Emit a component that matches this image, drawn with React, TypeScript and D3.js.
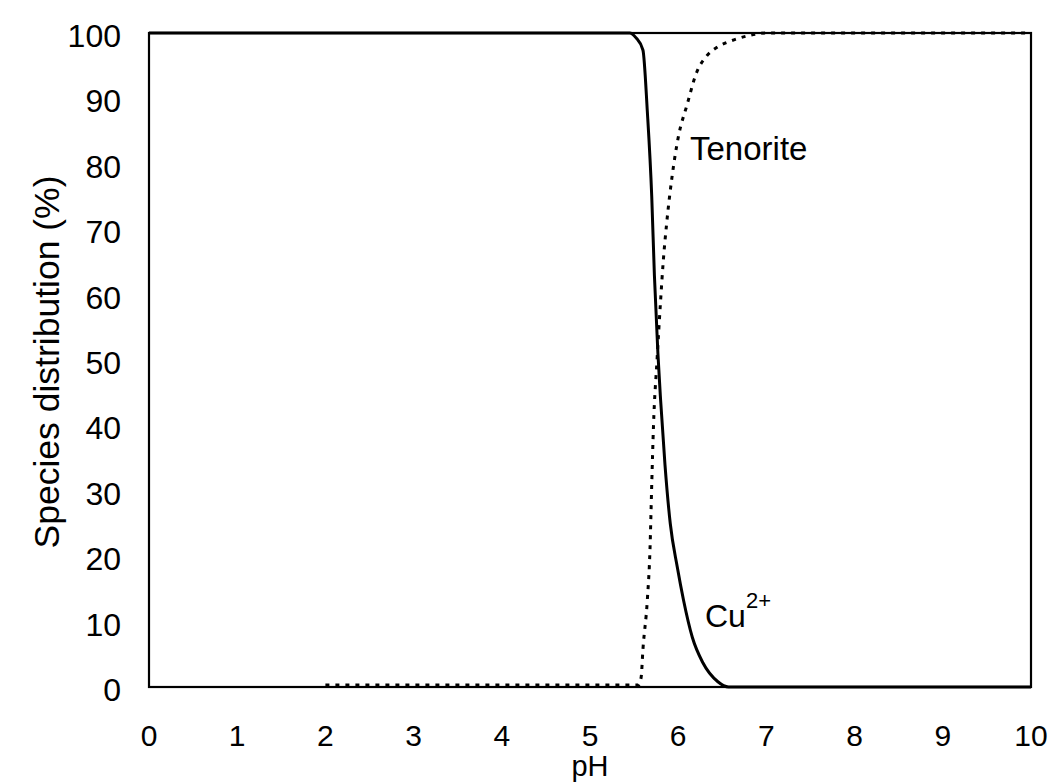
import React from "react";
import * as d3 from "d3";

const xTicks = [0, 1, 2, 3, 4, 5, 6, 7, 8, 9, 10];
const yTicks = [0, 10, 20, 30, 40, 50, 60, 70, 80, 90, 100];

const cuPH = [0, 5.45, 5.52, 5.6, 5.65, 5.7, 5.73, 5.77, 5.8, 5.85, 5.91, 5.99, 6.06, 6.16, 6.28, 6.45, 6.57, 10];
const cuVal = [100, 100, 99.3, 97.4, 88, 75, 63, 51, 44, 34, 25, 18.3, 13.3, 7.6, 3.7, 0.8, 0, 0];

const tenPH = [2, 5.55, 5.58, 5.6, 5.65, 5.68, 5.7, 5.72, 5.76, 5.8, 5.83, 5.87, 5.93, 6.0, 6.1, 6.21, 6.33, 6.45, 6.6, 6.8, 7.0, 10];
const tenVal = [0.3, 0.3, 1.5, 5.7, 13.3, 21, 31, 40, 50, 59, 65, 71, 78, 84, 89, 94, 96.6, 97.9, 98.8, 99.6, 100, 100];

const W = 1054;
const H = 782;
const left = 149;
const right = 1031;
const top = 33;
const bottom = 687;
const font = "'Liberation Sans', Arial, Helvetica, sans-serif";

export default function App() {
  const x = d3.scaleLinear().domain([0, 10]).range([left, right]);
  const y = d3.scaleLinear().domain([0, 100]).range([bottom, top]);
  const line = d3
    .line<[number, number]>()
    .x((d) => x(d[0]))
    .y((d) => y(d[1]))
    .curve(d3.curveMonotoneX);
  const cu = cuPH.map((p, i) => [p, cuVal[i]] as [number, number]);
  const ten = tenPH.map((p, i) => [p, tenVal[i]] as [number, number]);

  return (
    <svg
      width={W}
      height={H}
      style={{ position: "absolute", left: 0, top: 0, background: "#fff" }}
      fontFamily={font}
    >
      <rect x={0} y={0} width={W} height={H} fill="#fff" />
      <rect
        x={left}
        y={top}
        width={right - left}
        height={bottom - top}
        fill="none"
        stroke="#000"
        strokeWidth={2.2}
      />
      <path d={line(cu) || ""} fill="none" stroke="#000" strokeWidth={3} />
      <path
        d={line(ten) || ""}
        fill="none"
        stroke="#000"
        strokeWidth={3}
        strokeDasharray="4 6"
      />
      {yTicks.map((t) => (
        <text
          key={"y" + t}
          x={121}
          y={y(t) + 3}
          textAnchor="end"
          dominantBaseline="central"
          fontSize={32}
          fill="#000"
        >
          {t}
        </text>
      ))}
      {xTicks.map((t) => (
        <text
          key={"x" + t}
          x={x(t)}
          y={735}
          textAnchor="middle"
          dominantBaseline="central"
          fontSize={30}
          fill="#000"
        >
          {t}
        </text>
      ))}
      <text x={(left + right) / 2} y={776} textAnchor="middle" fontSize={29} fill="#000">
        pH
      </text>
      <text
        transform={`translate(47, ${(top + bottom) / 2 + 2}) rotate(-90)`}
        textAnchor="middle"
        dominantBaseline="central"
        fontSize={35.5}
        fill="#000"
      >
        Species distribution (%)
      </text>
      <text x={690} y={160} fontSize={33} fill="#000">
        Tenorite
      </text>
      <text x={705} y={627} fontSize={32} fill="#000">
        Cu
        <tspan fontSize={22} dy={-19}>
          2+
        </tspan>
      </text>
    </svg>
  );
}
